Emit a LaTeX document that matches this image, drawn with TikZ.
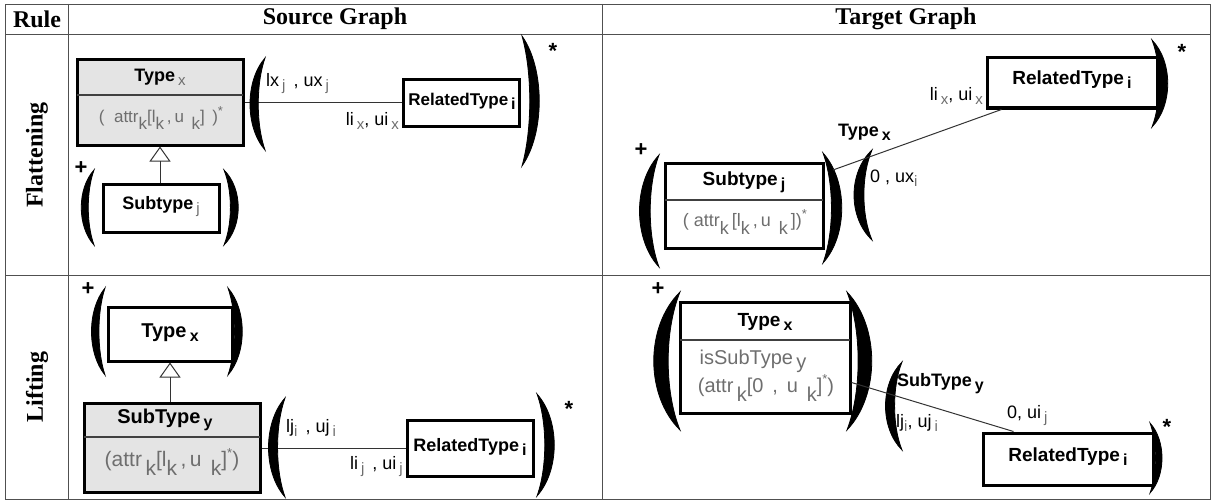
\documentclass[tikz,border=0pt]{standalone}
\usepackage{fontspec}
\setmainfont{Liberation Serif}
\newfontfamily\umlfont{Liberation Sans}
\usetikzlibrary{arrows.meta}

\definecolor{boxgray}{HTML}{E4E4E4}
\definecolor{txtgray}{HTML}{6E6E6E}
\definecolor{rulegray}{HTML}{505050}

% subscripts: gray light, bold black, attribute index
\newcommand{\gsub}[1]{\raisebox{-4pt}{\mdseries\fontsize{15}{15}\selectfont\color{txtgray}#1}}
\newcommand{\bsub}[1]{\raisebox{-4pt}{\bfseries\fontsize{16}{16}\selectfont #1}}
\newcommand{\ksub}[1]{\raisebox{-0.42em}{#1}}
\newcommand{\starsup}{\raisebox{0.45em}{\fontsize{13}{13}\selectfont *}}

% big parentheses: x left, y top, height, width
\newcommand{\openpar}[4]{%
  \filldraw [line width=0.8pt] (#1+#4,#2) .. controls (#1,#2+0.25*#3) and (#1,#2+0.75*#3) .. (#1+#4,#2+#3)
    .. controls (#1+0.55*#4,#2+0.72*#3) and (#1+0.55*#4,#2+0.28*#3) .. (#1+#4,#2) -- cycle;}
\newcommand{\closepar}[4]{%
  \filldraw [line width=0.8pt] (#1,#2) .. controls (#1+#4,#2+0.25*#3) and (#1+#4,#2+0.75*#3) .. (#1,#2+#3)
    .. controls (#1+0.45*#4,#2+0.72*#3) and (#1+0.45*#4,#2+0.28*#3) .. (#1,#2) -- cycle;}

\tikzset{
  classbox/.style={draw, line width=3pt, inner sep=0pt},
  divider/.style={line width=1.3pt, draw=black!75},
  title/.style={inner sep=0pt, font=\umlfont\bfseries\fontsize{#1}{#1}\selectfont},
  title/.default=18,
  attr/.style={inner sep=0pt, text=txtgray, font=\umlfont\fontsize{#1}{#1}\selectfont},
  attr/.default=18,
  lbl/.style={inner sep=0pt, font=\umlfont\fontsize{18}{18}\selectfont},
  conn/.style={line width=1pt, draw=black!80},
  tabline/.style={line width=0.9pt, draw=rulegray},
  head/.style={inner sep=0pt, font=\bfseries\fontsize{24}{24}\selectfont},
  sym/.style={inner sep=0pt, font=\umlfont\bfseries\fontsize{22}{22}\selectfont},
}

\begin{document}
\begin{tikzpicture}[x=1pt, y=-1pt]
\useasboundingbox (0,0) rectangle (1211,503);

% table
\draw [tabline] (5,4) rectangle (1210,499);
\draw [tabline] (68,4) -- (68,499);
\draw [tabline] (602,4) -- (602,499);
\draw [tabline] (5,34) -- (1210,34);
\draw [tabline] (5,275) -- (1210,275);
\node [head] at (37,19) {Rule};
\node [head] at (335,19) {Source Graph};
\node [head] at (906,19) {Target Graph};
\node [head, rotate=90] at (37,155) {Flattening};
\node [head, rotate=90] at (37,387) {Lifting};

% flattening, source
\node [classbox, fill=boxgray, minimum width=166pt, minimum height=85pt] (typeX) at (160,102.5) {};
\draw [divider] (77,95) -- (243,95);
\node [title=18] at (160,77) {Type\,\gsub{x}};
\node [attr=17] at (161,118) {( \ attr\ksub{k}[l\ksub{k}\,,\,u\, \ksub{k}]\, )\starsup};
\node [classbox, minimum width=116pt, minimum height=48pt] (subJ) at (161,208) {};
\node [title] at (161,207) {Subtype\,\gsub{j}};
\draw [conn, arrows={-{Triangle[open, length=15pt, width=21pt]}}] (subJ.north -| typeX.south) -- (typeX.south);
\node [sym] at (81,168) {+};
\openpar{77}{170}{75}{17}
\closepar{224}{170}{75}{19}
\node [classbox, minimum width=116pt, minimum height=46pt] (relA) at (461,103) {};
\node [title=17] at (462,101) {RelatedType\,\bsub{i}};
\draw [conn] (typeX.east |- relA.west) -- (relA.west);
\openpar{245}{58}{92}{20}
\node [lbl, anchor=west] at (266,84) {lx\,\gsub{j}\, , ux\,\gsub{j}};
\node [lbl, anchor=east] at (399,121) {li\,\gsub{x}, ui\,\gsub{x}};
\closepar{522}{36}{130}{23}
\node [sym] at (553,51) {*};

% flattening, target
\node [classbox, minimum width=158pt, minimum height=85pt] (subJt) at (744,205.5) {};
\draw [divider] (665,200) -- (823,200);
\node [title=19] at (744,182) {Subtype\,\bsub{j}};
\node [attr=18] at (745,222) {( attr\ksub{k}\,[l\ksub{k}\,,\,u\, \ksub{k}\,])\starsup};
\node [sym] at (641,150) {+};
\openpar{633}{155}{112}{26}
\closepar{823}{153}{110}{25}
\openpar{848}{150}{90}{24}
\node [classbox, minimum width=170pt, minimum height=50pt] (relB) at (1072,83) {};
\node [title=19] at (1072,80) {RelatedType\,\bsub{i}};
\coordinate (fromSub) at (833,170);
\draw [conn] (fromSub) -- ([xshift=16pt]relB.south west);
\node [title, anchor=west] at (838,132) {Type\,\bsub{x}};
\node [lbl, anchor=west] at (870,178) {0 , ux\gsub{i}};
\node [lbl, anchor=east] at (983,96) {li\,\gsub{x}, ui\,\gsub{x}};
\closepar{1152}{40}{87}{21}
\node [sym] at (1182,52) {*};

% lifting, source
\node [classbox, minimum width=124pt, minimum height=54pt] (typeY) at (170,334) {};
\node [title=20] at (170,333) {Type\,\bsub{x}};
\node [sym] at (88,289) {+};
\openpar{87}{288}{87}{18}
\closepar{228}{288}{87}{19}
\node [classbox, fill=boxgray, minimum width=176pt, minimum height=89pt] (subY) at (172,447.5) {};
\draw [divider] (84,437) -- (260,437);
\node [title=20] at (165,420) {SubType\,\bsub{y}};
\node [attr=21] at (172,462) {(attr\,\ksub{k}[l\ksub{k}\,,\,u\, \ksub{k}]\starsup)};
\draw [conn, arrows={-{Triangle[open, length=15pt, width=21pt]}}] (typeY.south |- subY.north) -- (typeY.south);
\node [classbox, minimum width=126pt, minimum height=56pt] (relC) at (470,448) {};
\node [title] at (470,447) {RelatedType\,\bsub{i}};
\draw [conn] (subY.east |- relC.west) -- (relC.west);
\openpar{263}{398}{99}{22}
\node [lbl, anchor=west] at (286,428) {lj\gsub{i}\, , uj\,\gsub{i}};
\node [lbl, anchor=east] at (403,467) {li\,\gsub{j}\, , ui\,\gsub{j}};
\closepar{537}{394}{102}{23}
\node [sym] at (569,409) {*};

% lifting, target
\node [classbox, minimum width=170pt, minimum height=111pt] (typeC) at (765,357.5) {};
\draw [divider] (680,340) -- (850,340);
\node [title=19] at (765,322) {Type\,\bsub{x}};
\node [attr=20] at (753,361) {isSubType\,\raisebox{-4pt}{y}};
\node [attr=20] at (766,388) {(attr\,\ksub{k}[0\, ,\, u\, \ksub{k}]\starsup)};
\node [sym] at (658,289) {+};
\openpar{645}{292}{138}{35}
\closepar{847}{292}{138}{33}
\openpar{880}{362}{88}{22}
\node [classbox, minimum width=170pt, minimum height=52pt] (relD) at (1068,459) {};
\node [title=19] at (1068,457) {RelatedType\,\bsub{i}};
\draw [conn] ([yshift=-25pt]typeC.east) -- ([xshift=32pt]relD.north west);
\node [title, anchor=west] at (897,384) {SubType\,\bsub{y}};
\node [lbl, anchor=west] at (896,423) {lj\gsub{i}, uj\,\gsub{i}};
\node [lbl, anchor=west] at (1007,416) {0, ui\,\gsub{j}};
\closepar{1150}{423}{70}{16}
\node [sym] at (1167,427) {*};
\end{tikzpicture}
\end{document}
